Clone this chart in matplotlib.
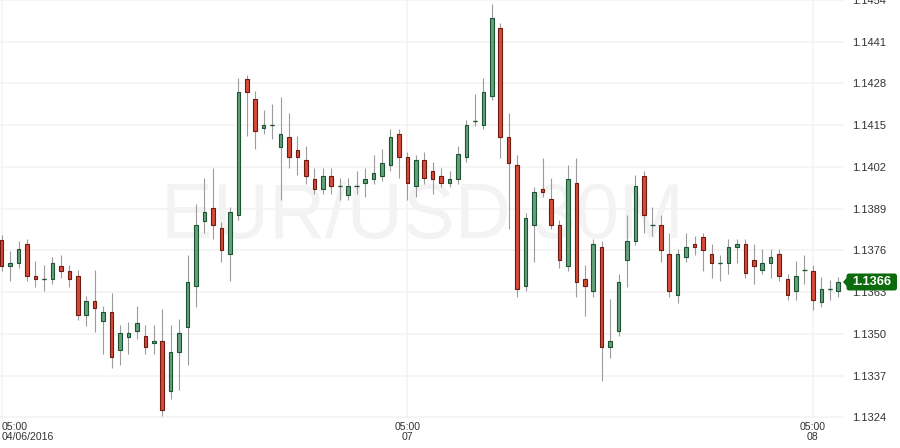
import matplotlib
matplotlib.use('Agg')
import matplotlib.pyplot as plt
import matplotlib.transforms as mtransforms
from matplotlib.patches import FancyBboxPatch, Polygon
import numpy as np

plt.rcParams['font.family'] = ['Liberation Sans', 'DejaVu Sans']

# ---- data (EUR/USD, 30-minute candles) ----
opens = [1.13791, 1.13711, 1.13722, 1.13781, 1.13681, 1.13672, 1.13671, 1.13712, 1.13697, 1.13681,
         1.13560, 1.13601, 1.13540, 1.13569, 1.13450, 1.13491, 1.13509, 1.13492, 1.13470, 1.13479,
         1.13321, 1.13442, 1.13520, 1.13650, 1.13852, 1.13893, 1.13830, 1.13750, 1.13871, 1.14293,
         1.14231, 1.14141, 1.14150, 1.14082, 1.14113, 1.14073, 1.14042, 1.13983, 1.13952, 1.13992,
         1.13961, 1.13933, 1.13961, 1.13970, 1.13983, 1.13992, 1.14026, 1.14122, 1.14051, 1.13961,
         1.14042, 1.14008, 1.13992, 1.13970, 1.13983, 1.14051, 1.14163, 1.14150, 1.14241, 1.14452,
         1.14113, 1.14026, 1.13650, 1.13840, 1.13952, 1.13921, 1.13840, 1.13712, 1.13970, 1.13672,
         1.13632, 1.13771, 1.13459, 1.13509, 1.13731, 1.13790, 1.13992, 1.13840, 1.13840, 1.13750,
         1.13622, 1.13740, 1.13781, 1.13802, 1.13750, 1.13722, 1.13722, 1.13771, 1.13781, 1.13731,
         1.13700, 1.13722, 1.13750, 1.13672, 1.13632, 1.13700, 1.13697, 1.13599, 1.13641, 1.13632]
highs = [1.13807, 1.13757, 1.13788, 1.13797, 1.13726, 1.13715, 1.13738, 1.13747, 1.13716, 1.13698,
         1.13617, 1.13698, 1.13586, 1.13626, 1.13527, 1.13536, 1.13587, 1.13527, 1.13527, 1.13577,
         1.13527, 1.13546, 1.13747, 1.13906, 1.13987, 1.14018, 1.13847, 1.13896, 1.14297, 1.14307,
         1.14257, 1.14198, 1.14217, 1.14238, 1.14189, 1.14117, 1.14086, 1.14018, 1.14018, 1.14018,
         1.13987, 1.13987, 1.14008, 1.14018, 1.14058, 1.14077, 1.14139, 1.14139, 1.14067, 1.14058,
         1.14067, 1.14036, 1.14018, 1.14008, 1.14086, 1.14167, 1.14248, 1.14297, 1.14527, 1.14468,
         1.14189, 1.14058, 1.13878, 1.13959, 1.14049, 1.13987, 1.13856, 1.14027, 1.14049, 1.13716,
         1.13797, 1.13788, 1.13608, 1.13688, 1.13869, 1.13996, 1.14008, 1.13896, 1.13869, 1.13815,
         1.13765, 1.13815, 1.13806, 1.13815, 1.13779, 1.13747, 1.13797, 1.13797, 1.13797, 1.13779,
         1.13765, 1.13765, 1.13765, 1.13688, 1.13726, 1.13747, 1.13716, 1.13677, 1.13667, 1.13677]
lows = [1.13696, 1.13665, 1.13705, 1.13665, 1.13646, 1.13633, 1.13654, 1.13674, 1.13646, 1.13542,
        1.13525, 1.13506, 1.13436, 1.13394, 1.13403, 1.13436, 1.13483, 1.13436, 1.13436, 1.13245,
        1.13296, 1.13326, 1.13404, 1.13584, 1.13815, 1.13795, 1.13724, 1.13665, 1.13854, 1.14115,
        1.14075, 1.14124, 1.14106, 1.13917, 1.14016, 1.13994, 1.13966, 1.13935, 1.13935, 1.13935,
        1.13917, 1.13917, 1.13935, 1.13926, 1.13966, 1.13975, 1.14006, 1.13985, 1.13917, 1.13926,
        1.13966, 1.13935, 1.13957, 1.13957, 1.13966, 1.14034, 1.14146, 1.14137, 1.14228, 1.14047,
        1.13826, 1.13615, 1.13633, 1.13724, 1.13926, 1.13826, 1.13705, 1.13696, 1.13615, 1.13556,
        1.13615, 1.13354, 1.13425, 1.13494, 1.13646, 1.13776, 1.13815, 1.13804, 1.13724, 1.13615,
        1.13597, 1.13724, 1.13747, 1.13696, 1.13674, 1.13665, 1.13686, 1.13722, 1.13674, 1.13655,
        1.13686, 1.13674, 1.13665, 1.13605, 1.13605, 1.13655, 1.13574, 1.13584, 1.13605, 1.13615]
closes = [1.13711, 1.13722, 1.13763, 1.13680, 1.13671, 1.13672, 1.13722, 1.13696, 1.13671, 1.13560,
          1.13601, 1.13582, 1.13569, 1.13428, 1.13502, 1.13502, 1.13533, 1.13459, 1.13479, 1.13262,
          1.13442, 1.13502, 1.13660, 1.13840, 1.13880, 1.13840, 1.13762, 1.13880, 1.14253, 1.14253,
          1.14132, 1.14150, 1.14150, 1.14122, 1.14051, 1.14051, 1.13992, 1.13952, 1.13992, 1.13961,
          1.13961, 1.13961, 1.13961, 1.13983, 1.14001, 1.14032, 1.14113, 1.14051, 1.13970, 1.14042,
          1.13986, 1.13983, 1.13970, 1.13983, 1.14060, 1.14150, 1.14163, 1.14253, 1.14483, 1.14113,
          1.14032, 1.13641, 1.13861, 1.13942, 1.13942, 1.13840, 1.13731, 1.13983, 1.13660, 1.13650,
          1.13781, 1.13459, 1.13479, 1.13660, 1.13790, 1.13961, 1.13871, 1.13840, 1.13762, 1.13632,
          1.13750, 1.13771, 1.13771, 1.13762, 1.13722, 1.13722, 1.13771, 1.13781, 1.13691, 1.13712,
          1.13722, 1.13740, 1.13681, 1.13622, 1.13681, 1.13700, 1.13605, 1.13641, 1.13641, 1.13660]

ytick_values = [1.1324, 1.1337, 1.1350, 1.1363, 1.1376, 1.1389, 1.1402, 1.1415, 1.1428, 1.1441, 1.1454]
xtick_index = [0, 48, 96]
xtick_labels = ['05:00\n04/06/2016', '05:00\n07', '05:00\n08']
watermark = 'EUR/USD 30M'
last_price_label = '1.1366'

# ---- style ----
GREEN_FACE = '#62a27a'
GREEN_EDGE = '#1d5232'
RED_FACE = '#d64b38'
RED_EDGE = '#6e1a10'
WICK = '#9c9c9c'
GRID = '#f3f3f3'

o = np.array(opens); h = np.array(highs); l = np.array(lows); c = np.array(closes)
x = np.arange(len(o))
up = c >= o
body_bottom = np.minimum(o, c)
body_height = np.abs(c - o)

fig = plt.figure(figsize=(9, 4.48), dpi=100)
ax = fig.add_axes([0, 30 / 448, 844 / 900, 418 / 448])

ax.text(0.5006, 0.4306, watermark, transform=ax.transAxes, ha='center', va='baseline',
        fontsize=56, color='#f3f3f3', zorder=0.6)

ax.vlines(x, l, h, color=WICK, lw=0.8, zorder=2)
bw = 0.42
ax.bar(x[up], body_height[up], bottom=body_bottom[up], width=bw, color=GREEN_FACE,
       edgecolor=GREEN_EDGE, linewidth=0.8, zorder=3)
ax.bar(x[~up], body_height[~up], bottom=body_bottom[~up], width=bw, color=RED_FACE,
       edgecolor=RED_EDGE, linewidth=0.8, zorder=3)
doji = body_height < 1e-9
ax.hlines(c[doji], x[doji] - bw / 2 - 0.05, x[doji] + bw / 2 + 0.05, color=GREEN_EDGE, lw=0.9, zorder=3)

ax.set_xlim(-0.201, 99.68)
ax.set_ylim(1.132379, 1.145366)

ax.set_yticks(ytick_values, [f'{v:.4f}' for v in ytick_values])
ax.yaxis.tick_right()
ax.set_xticks(xtick_index, xtick_labels)
ax.grid(True, color=GRID, lw=1.2)
ax.set_axisbelow(True)
ax.tick_params(axis='y', length=0, pad=5.5, labelsize=8, labelcolor='#333333')
ax.tick_params(axis='x', length=0, pad=3.0, labelsize=7.6, labelcolor='#333333')
for lab in ax.get_xticklabels():
    lab.set_linespacing(0.92)
first = ax.get_xticklabels()[0]
first.set_horizontalalignment('left')
first.set_multialignment('left')
for s in ax.spines.values():
    s.set_visible(False)

# last price marker anchored at the last close on the right edge
blend = mtransforms.blended_transform_factory(ax.transAxes, ax.transData)
anchor = mtransforms.Affine2D() + mtransforms.ScaledTranslation(1.0, c[-1], blend)
box = FancyBboxPatch((2.5, -8.0), 50.5, 17, boxstyle='round,pad=0,rounding_size=2.5',
                     transform=anchor, fc='#0c6b0c', ec='none', clip_on=False, zorder=9)
ax.add_artist(box)
tri = Polygon([(-1.0, 0.5), (3.0, 5.0), (3.0, -4.0)], closed=True, transform=anchor,
              fc='#0c6b0c', ec='none', clip_on=False, zorder=9)
ax.add_artist(tri)
ax.text(27.75, 0.5, last_price_label, transform=anchor, ha='center', va='center',
        color='white', fontweight='bold', fontsize=9.2, clip_on=False, zorder=10)

fig.savefig('out.png', dpi=100)
